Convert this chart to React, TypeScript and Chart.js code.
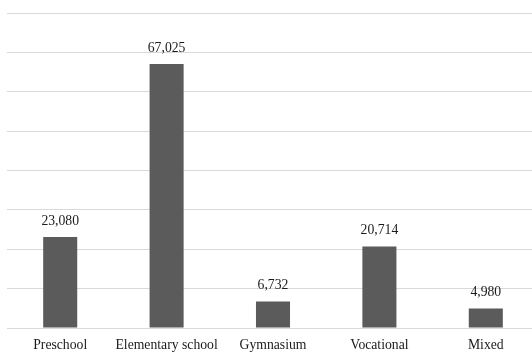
import React, { useEffect, useRef } from "react";
import { Chart, registerables } from "chart.js";

Chart.register(...registerables);

const categories = ["Preschool", "Elementary school", "Gymnasium", "Vocational", "Mixed"];
const students = [23080, 67025, 6732, 20714, 4980];
const yMax = 80000;
const yStep = 10000;

const FONT_FAMILY = "'Liberation Serif', 'Times New Roman', serif";
const FONT_SIZE = 13.7;

// Writes each bar's value just above its top edge.
const valueLabels = {
  id: "valueLabels",
  afterDatasetsDraw(chart: any) {
    const ctx = chart.ctx;
    const meta = chart.getDatasetMeta(0);
    ctx.save();
    ctx.font = `${FONT_SIZE}px ${FONT_FAMILY}`;
    ctx.fillStyle = "#1a1a1a";
    ctx.textAlign = "center";
    ctx.textBaseline = "alphabetic";
    meta.data.forEach((bar: any, i: number) => {
      const v = chart.data.datasets[0].data[i] as number;
      ctx.fillText(v.toLocaleString("en-US"), bar.x, bar.y - 12);
    });
    ctx.restore();
  },
};

export default function App() {
  const canvasRef = useRef<HTMLCanvasElement>(null);

  useEffect(() => {
    if (!canvasRef.current) return;
    const chart = new Chart(canvasRef.current, {
      type: "bar",
      data: {
        labels: categories,
        datasets: [
          {
            data: students,
            backgroundColor: "#5b5b5b",
            borderWidth: 0,
            categoryPercentage: 1,
            barPercentage: 0.32,
          },
        ],
      },
      options: {
        animation: false,
        responsive: false,
        maintainAspectRatio: false,
        layout: { padding: { left: 7, right: 6, top: 13, bottom: 0 } },
        plugins: {
          legend: { display: false },
          tooltip: { enabled: false },
        },
        scales: {
          x: {
            grid: { display: false, drawTicks: false },
            border: { display: false },
            ticks: {
              color: "#1a1a1a",
              font: { family: FONT_FAMILY, size: FONT_SIZE },
              padding: 9,
              maxRotation: 0,
              autoSkip: false,
            },
            afterFit(scale: any) {
              scale.height = 25;
            },
          },
          y: {
            min: 0,
            max: yMax,
            border: { display: false },
            grid: { color: "#d9d9d9", lineWidth: 1, drawTicks: false },
            ticks: { display: false, stepSize: yStep },
            afterFit(scale: any) {
              scale.width = 0;
            },
          },
        },
      },
      plugins: [valueLabels],
    });
    return () => chart.destroy();
  }, []);

  return (
    <div
      style={{
        position: "fixed",
        left: 0,
        top: 0,
        width: 532,
        height: 353,
        overflow: "hidden",
        background: "#ffffff",
      }}
    >
      <canvas ref={canvasRef} width={545} height={353} style={{ display: "block" }} />
    </div>
  );
}
